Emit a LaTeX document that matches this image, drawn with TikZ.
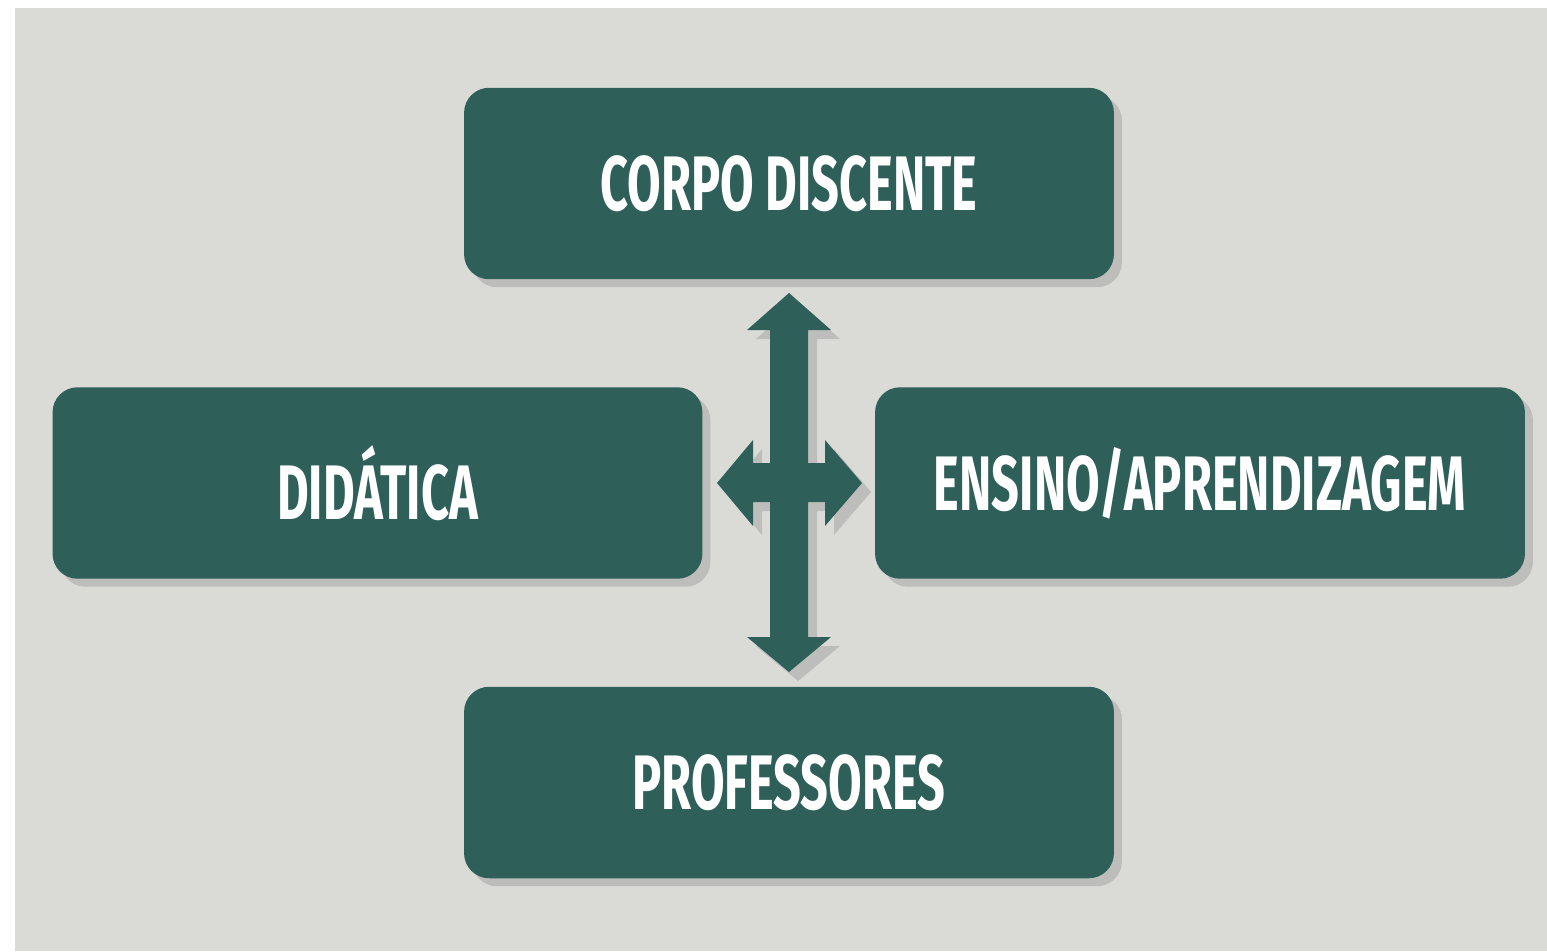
\documentclass[tikz,border=0pt]{standalone}
\usepackage{fontspec}
\newfontfamily\boxfont[FakeStretch=0.63]{Fira Sans}
\usetikzlibrary{shadows}
\definecolor{bggray}{HTML}{DADBD7}
\definecolor{boxgreen}{HTML}{2F5F59}
\definecolor{shadowgray}{HTML}{BDBEBC}
\begin{document}
\begin{tikzpicture}[x=0.02cm,y=-0.02cm,
  box/.style={fill=boxgreen, rounded corners=0.5cm, minimum width=13cm, minimum height=3.83cm,
    text=white, font=\boxfont\bfseries\fontsize{44}{48}\selectfont, inner sep=0pt,
    general shadow={shadow xshift=0.16cm, shadow yshift=-0.16cm, fill=shadowgray}},
  cross/.style={fill=boxgreen},
  crossshadow/.style={fill=shadowgray}]
\useasboundingbox (0,0) rectangle (1547,951);
\fill[white] (0,0) rectangle (1547,951);
\fill[bggray] (15,8) rectangle (1547,951);

\node[box] (top) at (789,183.5) {CORPO DISCENTE};
\node[box] (left) at (377.5,483) {DIDÁTICA};
\node[box] (right) at (1200,483) {ENSINO/APRENDIZAGEM};
\node[box] (bottom) at (789,782.5) {PROFESSORES};

\coordinate (c) at (789,483);
\foreach \s/\o in {crossshadow/9, cross/0}{
\fill[\s] ([shift={(\o,\o)}]c) ++(0,-190) -- ++(42,37) -- ++(-23,0) -- ++(0,133) -- ++(17,0) -- ++(0,-23)
  -- ++(37,43) -- ++(-37,43) -- ++(0,-24) -- ++(-17,0) -- ++(0,135) -- ++(23,0) -- ++(-42,35)
  -- ++(-42,-35) -- ++(23,0) -- ++(0,-135) -- ++(-17,0) -- ++(0,24) -- ++(-36,-43) -- ++(36,-43)
  -- ++(0,23) -- ++(17,0) -- ++(0,-133) -- ++(-23,0) -- cycle;
}
\end{tikzpicture}
\end{document}
